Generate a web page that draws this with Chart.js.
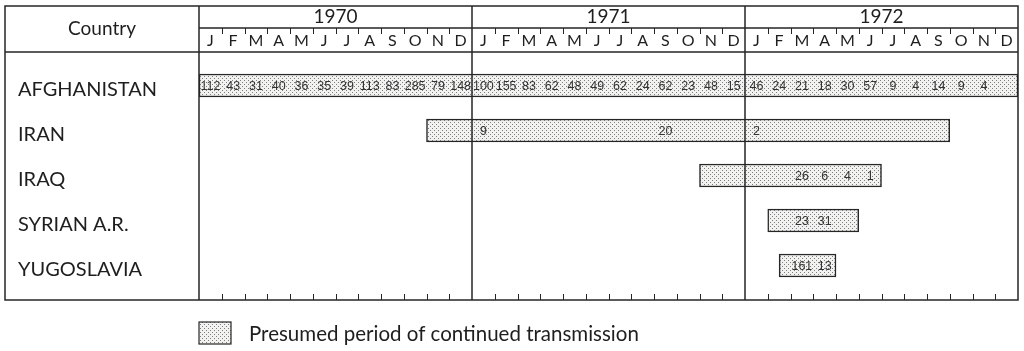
<!DOCTYPE html>
<html>
<head>
<meta charset="utf-8">
<script src="https://cdn.jsdelivr.net/npm/chart.js@4"></script>
<style>
  html, body { margin: 0; background: #fff; }
  canvas { display: block; }
</style>
</head>
<body>
<canvas id="grafica" width="1024" height="351"></canvas>
<script>
const countries = ['AFGHANISTAN', 'IRAN', 'IRAQ', 'SYRIAN A.R.', 'YUGOSLAVIA'];
const years = ['1970', '1971', '1972'];
const monthLetters = ['J', 'F', 'M', 'A', 'M', 'J', 'J', 'A', 'S', 'O', 'N', 'D'];

// presumed period of transmission, months counted from Jan 1970
const periodStart = [0, 10, 22, 25, 25.5];
const periodEnd = [36, 33, 30, 29, 28];

// reported cases per month
const afghanistanCases = [112, 43, 31, 40, 36, 35, 39, 113, 83, 285, 79, 148,
                          100, 155, 83, 62, 48, 49, 62, 24, 62, 23, 48, 15,
                          46, 24, 21, 18, 30, 57, 9, 4, 14, 9, 4, null];
const iranMonths = [12, 20, 24];
const iranCases = [9, 20, 2];
const iraqMonths = [26, 27, 28, 29];
const iraqCases = [26, 6, 4, 1];
const syriaMonths = [26, 27];
const syriaCases = [23, 31];
const yugoslaviaMonths = [26, 27];
const yugoslaviaCases = [161, 13];

const legendText = 'Presumed period of continued transmission';

function casesByCountry() {
    const afg = [];
    afghanistanCases.forEach((v, m) => { if (v !== null) afg.push({ m: m, v: v }); });
    const pares = (meses, valores) => meses.map((m, i) => ({ m: m, v: valores[i] }));
    return [afg, pares(iranMonths, iranCases), pares(iraqMonths, iraqCases),
            pares(syriaMonths, syriaCases), pares(yugoslaviaMonths, yugoslaviaCases)];
}

function crearTrama() {
    const c = document.createElement('canvas');
    c.width = 4; c.height = 4;
    const g = c.getContext('2d');
    g.fillStyle = '#f2f2f0';
    g.fillRect(0, 0, 4, 4);
    g.fillStyle = '#7e7e7e';
    g.fillRect(0, 0, 1, 1);
    g.fillRect(2, 2, 1, 1);
    return document.getElementById('grafica').getContext('2d').createPattern(c, 'repeat');
}

const trama = crearTrama();
const lineColor = '#262626';
const textColor = '#1e1e1e';
const fuente = "Lato, 'Open Sans', sans-serif";

const tablaPlugin = {
    id: 'tabla',
    afterDraw(chart) {
        const ctx = chart.ctx;
        const x = chart.scales.x;
        const y = chart.scales.y;
        const area = chart.chartArea;
        const left = 5, top = 6, midHeader = 28;

        ctx.save();
        ctx.strokeStyle = lineColor;
        ctx.lineWidth = 1.5;

        // marco
        ctx.strokeRect(left, top, area.right - left, area.bottom - top);
        ctx.beginPath();
        ctx.moveTo(area.left, midHeader); ctx.lineTo(area.right, midHeader);
        ctx.moveTo(left, area.top); ctx.lineTo(area.right, area.top);
        ctx.moveTo(area.left, top); ctx.lineTo(area.left, area.bottom);
        for (let k = 1; k < years.length; k++) {
            const px = x.getPixelForValue(k * 12);
            ctx.moveTo(px, top); ctx.lineTo(px, area.bottom);
        }
        ctx.stroke();

        // marcas de meses
        ctx.lineWidth = 1;
        ctx.beginPath();
        for (let m = 1; m < years.length * 12; m++) {
            if (m % 12 === 0) continue;
            const px = Math.round(x.getPixelForValue(m)) + 0.5;
            ctx.moveTo(px, midHeader); ctx.lineTo(px, midHeader + 6);
            ctx.moveTo(px, area.bottom - 6); ctx.lineTo(px, area.bottom);
        }
        ctx.stroke();

        // cabecera
        ctx.fillStyle = textColor;
        ctx.textAlign = 'center';
        ctx.textBaseline = 'middle';
        ctx.font = '19px ' + fuente;
        ctx.fillText('Country', (left + area.left) / 2, 29);
        ctx.font = '19px ' + fuente;
        years.forEach((yr, k) => {
            ctx.fillText(yr, x.getPixelForValue(k * 12 + 6), 17);
        });
        ctx.font = '16px ' + fuente;
        for (let m = 0; m < years.length * 12; m++) {
            ctx.fillText(monthLetters[m % 12], x.getPixelForValue(m + 0.5), 41);
        }

        // paises
        ctx.textAlign = 'left';
        ctx.font = '20px ' + fuente;
        countries.forEach((c, i) => {
            ctx.fillText(c, 18, y.getPixelForValue(i) + 4);
        });

        // casos
        ctx.textAlign = 'center';
        ctx.font = "12.5px 'Liberation Sans Narrow', 'Liberation Sans', sans-serif";
        ctx.fillStyle = '#333';
        casesByCountry().forEach((lista, i) => {
            lista.forEach(d => {
                ctx.fillText(String(d.v), x.getPixelForValue(d.m + 0.5), y.getPixelForValue(i) + 1);
            });
        });

        // leyenda
        const lx = area.left, ly = 322;
        ctx.fillStyle = trama;
        ctx.fillRect(lx, ly, 32, 22);
        ctx.strokeStyle = lineColor;
        ctx.lineWidth = 1.2;
        ctx.strokeRect(lx, ly, 32, 22);
        ctx.fillStyle = textColor;
        ctx.textAlign = 'left';
        ctx.font = '20.5px ' + fuente;
        ctx.fillText(legendText, lx + 50, ly + 12);
        ctx.restore();
    }
};

const ctx = document.getElementById('grafica').getContext('2d');
new Chart(ctx, {
    type: 'bar',
    data: {
        datasets: [{
            label: legendText,
            data: countries.map((c, i) => ({ x: [periodStart[i], periodEnd[i]], y: i })),
            backgroundColor: trama,
            borderColor: lineColor,
            borderWidth: 1.5,
            borderSkipped: false,
            barThickness: 23
        }]
    },
    options: {
        indexAxis: 'y',
        responsive: false,
        animation: false,
        layout: { padding: { left: 199, right: 6, top: 52, bottom: 51 } },
        plugins: { legend: { display: false }, tooltip: { enabled: false } },
        scales: {
            x: { type: 'linear', min: 0, max: 36, display: false },
            y: { type: 'linear', reverse: true, offset: false, min: -0.744, max: 4.767, display: false }
        }
    },
    plugins: [tablaPlugin]
});
</script>
</body>
</html>
